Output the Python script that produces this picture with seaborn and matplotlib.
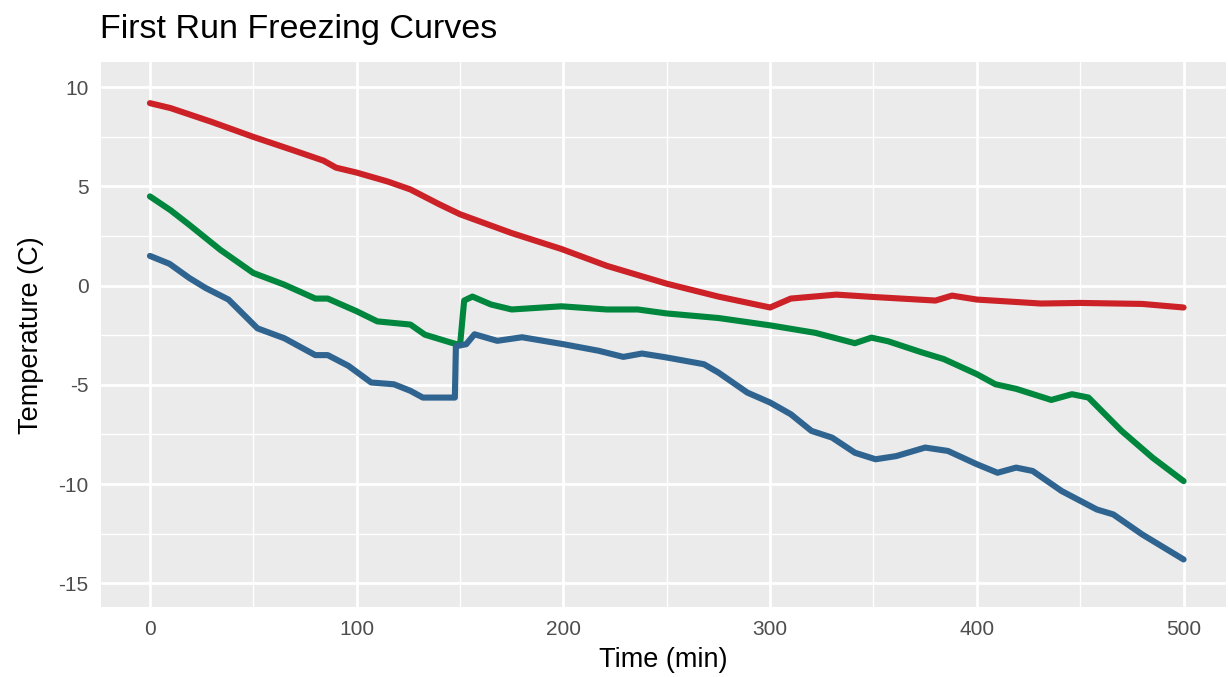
import numpy as np
import pandas as pd
import matplotlib
matplotlib.use("Agg")
import matplotlib.pyplot as plt
import seaborn as sns
from matplotlib.ticker import MultipleLocator

# ---- data ----
red_t = [0, 10, 20, 30, 50, 70, 84, 90, 100, 115, 126, 140, 150, 175, 199, 221, 250, 275, 300,
         310, 332, 350, 380, 388, 400, 431, 450, 480, 500]
red_v = [9.2, 8.95, 8.6, 8.25, 7.5, 6.8, 6.3, 5.95, 5.7, 5.25, 4.85, 4.1, 3.6, 2.65, 1.85, 1.0, 0.1,
         -0.55, -1.1, -0.65, -0.45, -0.57, -0.75, -0.5, -0.7, -0.9, -0.87, -0.92, -1.1]

green_t = [0, 10, 19, 34, 50, 65, 80, 86, 100, 110, 126, 133, 145, 150, 152, 156, 165, 175, 199,
           221, 236, 250, 275, 300, 322, 341, 349, 357, 373, 384, 400, 409, 419, 436, 446, 454,
           470, 485, 500]
green_v = [4.5, 3.8, 3.07, 1.81, 0.64, 0.05, -0.65, -0.65, -1.29, -1.8, -1.96, -2.47, -2.85, -3.0,
           -0.75, -0.55, -0.95, -1.2, -1.04, -1.2, -1.2, -1.4, -1.63, -2.0, -2.38, -2.9, -2.62,
           -2.8, -3.35, -3.7, -4.46, -4.97, -5.2, -5.76, -5.47, -5.64, -7.32, -8.67, -9.85]

blue_t = [0, 9.5, 19, 27, 38, 52, 65, 80, 86, 96, 107, 118, 126, 132, 147.5, 148, 153, 157, 168,
          180, 200, 217, 229, 238, 250, 268, 275, 289, 300, 310, 320, 330, 341, 351, 361, 375,
          386, 400, 410, 419, 427, 441, 458, 466, 480, 500]
blue_v = [1.5, 1.1, 0.39, -0.12, -0.7, -2.15, -2.65, -3.5, -3.5, -4.04, -4.88, -4.97, -5.3, -5.64,
          -5.64, -3.05, -2.95, -2.45, -2.78, -2.6, -2.95, -3.28, -3.59, -3.42, -3.62, -3.96, -4.38,
          -5.39, -5.89, -6.48, -7.32, -7.66, -8.42, -8.75, -8.59, -8.16, -8.33, -9.0, -9.43,
          -9.17, -9.34, -10.35, -11.28, -11.53, -12.54, -13.8]

x_ticks = [0, 100, 200, 300, 400, 500]
y_ticks = [-15, -10, -5, 0, 5, 10]

df = pd.concat([
    pd.DataFrame({"Time": red_t, "Temp": red_v, "probe": "A"}),
    pd.DataFrame({"Time": green_t, "Temp": green_v, "probe": "B"}),
    pd.DataFrame({"Time": blue_t, "Temp": blue_v, "probe": "C"}),
], ignore_index=True)

palette = {"A": "#CB2127", "B": "#00873D", "C": "#2F6490"}

sns.set_theme(style="darkgrid")
plt.rcParams["font.family"] = ["Liberation Sans", "DejaVu Sans"]

fig = plt.figure(figsize=(12.28, 6.77), dpi=100)
ax = fig.add_axes([0.0822, 0.103, 0.9158, 0.805])
ax.set_facecolor("#EBEBEB")

sns.lineplot(data=df, x="Time", y="Temp", hue="probe", palette=palette, ax=ax,
             linewidth=4.4, legend=False, sort=False, estimator=None)

ax.set_xlim(-23.7, 520.3)
ax.set_ylim(-16.21, 11.26)
ax.xaxis.set_major_locator(MultipleLocator(100))
ax.xaxis.set_minor_locator(MultipleLocator(50))
ax.yaxis.set_major_locator(MultipleLocator(5))
ax.yaxis.set_minor_locator(MultipleLocator(2.5))
ax.set_xticks(x_ticks)
ax.set_yticks(y_ticks)
ax.set_xticklabels([str(v) for v in x_ticks])
ax.set_yticklabels([str(v) for v in y_ticks])

ax.grid(which="major", color="white", linewidth=2.0)
ax.grid(which="minor", color="white", linewidth=1.0)
ax.set_axisbelow(True)
for s in ax.spines.values():
    s.set_visible(False)

ax.tick_params(axis="both", which="major", length=5, width=1.6, color="#333333",
               labelsize=15, labelcolor="#4D4D4D", pad=4)
ax.tick_params(axis="both", which="minor", length=0)

ax.set_xlabel("Time (min)", fontsize=19.5, color="black", labelpad=6)
ax.set_ylabel("Temperature (C)", fontsize=19.5, color="black", labelpad=10)
fig.text(0.0815, 0.957, "First Run Freezing Curves", fontsize=24.5, color="black",
         ha="left", va="center")

fig.savefig("out.png", dpi=100, facecolor="white")
